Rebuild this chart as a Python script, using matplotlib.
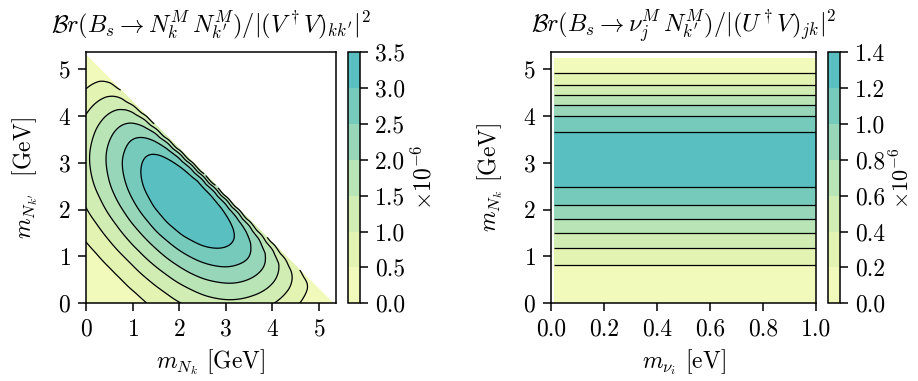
import numpy as np
import matplotlib
matplotlib.use('Agg')
import matplotlib.pyplot as plt
import matplotlib.tri as mtri
from matplotlib.colors import ListedColormap

plt.rcParams['font.family'] = 'serif'
plt.rcParams['font.serif'] = ['cmr10']
plt.rcParams['mathtext.fontset'] = 'cm'
plt.rcParams['axes.formatter.use_mathtext'] = True

m_bs = 5.367

# left panel: Br(Bs -> N N') in units of 1e-6, read on a 0.25 GeV grid
m_grid = [0.0, 0.25, 0.5, 0.75, 1.0, 1.25, 1.5, 1.75, 2.0, 2.25, 2.5,
          2.75, 3.0, 3.25, 3.5, 3.75, 4.0, 4.25, 4.5, 4.75, 5.0, 5.25]
# row i: m_N' = m_grid[i], values for m_N = m_grid[i] ... m_grid[21 - i]
br_nn = [
    [0.00, 0.02, 0.08, 0.18, 0.30, 0.46, 0.62, 0.80, 0.97, 1.12, 1.25, 1.34, 1.39, 1.38, 1.32, 1.20, 1.03, 0.82, 0.58, 0.35, 0.14, 0.02],
    [0.08, 0.18, 0.32, 0.48, 0.67, 0.87, 1.07, 1.27, 1.44, 1.59, 1.69, 1.74, 1.73, 1.65, 1.52, 1.32, 1.07, 0.78, 0.48, 0.19],
    [0.32, 0.49, 0.70, 0.92, 1.15, 1.38, 1.60, 1.79, 1.95, 2.05, 2.10, 2.08, 1.98, 1.81, 1.57, 1.25, 0.88, 0.43],
    [0.70, 0.94, 1.20, 1.46, 1.71, 1.95, 2.16, 2.32, 2.42, 2.46, 2.41, 2.28, 2.05, 1.73, 1.29, 0.68],
    [1.21, 1.50, 1.78, 2.06, 2.31, 2.52, 2.68, 2.77, 2.78, 2.69, 2.50, 2.17, 1.69, 0.94],
    [1.80, 2.11, 2.40, 2.66, 2.87, 3.02, 3.08, 3.04, 2.88, 2.56, 2.05, 1.18],
    [2.44, 2.73, 2.99, 3.19, 3.30, 3.31, 3.19, 2.90, 2.37, 1.40],
    [3.03, 3.27, 3.44, 3.49, 3.42, 3.15, 2.62, 1.58],
    [3.46, 3.48, 3.47, 3.33, 2.81, 1.72],
    [3.49, 3.42, 2.93, 1.81],
    [2.97, 1.86],
]
# values along the kinematic edge m_N + m_N' = edge_sum, at m_N = edge_m
edge_sum = 5.3
edge_m = m_grid + [5.3]
br_edge = [0.01, 0.13, 0.31, 0.51, 0.71, 0.90, 1.07, 1.21, 1.32, 1.40, 1.44, 1.44,
           1.41, 1.34, 1.23, 1.10, 0.93, 0.75, 0.55, 0.35, 0.16, 0.02, 0.01]

# right panel: Br(Bs -> nu N) in units of 1e-6 vs m_N (flat in m_nu)
m_n = [0.0, 0.15, 0.3, 0.45, 0.6, 0.75, 0.9, 1.05, 1.2, 1.35, 1.5, 1.65,
       1.8, 1.95, 2.1, 2.25, 2.4, 2.55, 2.7, 2.85, 3.0, 3.15, 3.3, 3.45,
       3.6, 3.75, 3.9, 4.05, 4.2, 4.35, 4.5, 4.65, 4.8, 4.95, 5.1, 5.25]
br_nun = [0.00, 0.01, 0.03, 0.06, 0.11, 0.17, 0.24, 0.32, 0.41, 0.50, 0.60, 0.70,
          0.80, 0.90, 1.00, 1.08, 1.16, 1.23, 1.28, 1.32, 1.34, 1.34, 1.33, 1.29,
          1.23, 1.16, 1.07, 0.96, 0.83, 0.70, 0.56, 0.42, 0.29, 0.17, 0.08, 0.02]
m_nu = [0.01, 1.0]

lev1 = [0, 0.5, 1.0, 1.5, 2.0, 2.5, 3.0, 3.5]
lev2 = [0, 0.2, 0.4, 0.6, 0.8, 1.0, 1.2, 1.4]

# symmetric table -> scattered points
xs, ys, zs = [], [], []
for i, row in enumerate(br_nn):
    for k, v in enumerate(row):
        j = i + k
        xs.append(m_grid[j]); ys.append(m_grid[i]); zs.append(v)
        if j != i:
            xs.append(m_grid[i]); ys.append(m_grid[j]); zs.append(v)
for a, v in zip(edge_m, br_edge):
    xs.append(a); ys.append(edge_sum - a); zs.append(v)

tri = mtri.Triangulation(xs, ys)
tri_f, z_f = mtri.UniformTriRefiner(tri).refine_field(np.array(zs), subdiv=3)
z_f = np.clip(z_f, 0, 3.49)

cols = ListedColormap(plt.get_cmap('YlGnBu')(np.linspace(0.10, 0.45, 7)))

fig = plt.figure(figsize=(9.18, 3.81), dpi=100)
ax1 = fig.add_axes([0.0937, 0.204, 0.2723, 0.659])
cax1 = fig.add_axes([0.379, 0.204, 0.0131, 0.659])
ax2 = fig.add_axes([0.6002, 0.204, 0.2887, 0.659])
cax2 = fig.add_axes([0.9019, 0.204, 0.0131, 0.659])

cf1 = ax1.tricontourf(tri_f, z_f, levels=lev1, cmap=cols)
ax1.tricontour(tri_f, z_f, levels=lev1[1:-1], colors='k', linewidths=0.9)

Z2 = np.array([br_nun, br_nun]).T
cf2 = ax2.contourf(m_nu, m_n, Z2, levels=lev2, cmap=cols)
ax2.contour(m_nu, m_n, Z2, levels=lev2[1:-1], colors='k', linewidths=0.9)

fs = 17
for ax in (ax1, ax2):
    ax.set_ylim(0, m_bs)
    ax.set_yticks(range(6))
    ax.tick_params(labelsize=fs, length=6, width=1.1, pad=5)
    for s in ax.spines.values():
        s.set_linewidth(1.1)
ax1.set_xlim(0, m_bs)
ax1.set_xticks(range(6))
ax2.set_xlim(0, 1)
ax2.set_xticks([0, 0.2, 0.4, 0.6, 0.8, 1.0])
ax2.xaxis.set_major_formatter(plt.FormatStrFormatter('%.1f'))

ax1.set_title(r'$\mathcal{B}r(B_s\to N_k^M\,N_{k^\prime}^M)/|(V^\dagger V)_{kk^\prime}|^2$', fontsize=17.5, pad=14)
ax2.set_title(r'$\mathcal{B}r(B_s\to \nu_j^M\,N_{k^\prime}^M)/|(U^\dagger V)_{jk}|^2$', fontsize=17.5, pad=14)
ax1.set_xlabel(r'$m_{N_k}$ [GeV]', fontsize=fs, labelpad=5)
ax1.set_ylabel(r'$m_{N_{k^\prime}}$  [GeV]', fontsize=fs, labelpad=13)
ax2.set_xlabel(r'$m_{\nu_i}$ [eV]', fontsize=fs, labelpad=5)
ax2.set_ylabel(r'$m_{N_k}$ [GeV]', fontsize=fs, labelpad=13)

cb1 = fig.colorbar(cf1, cax=cax1, format='%.1f')
cb2 = fig.colorbar(cf2, cax=cax2, format='%.1f')
cb1.set_label(r'$\times 10^{-6}$', fontsize=fs, labelpad=4)
cb2.set_label(r'$\times 10^{-6}$', fontsize=16, labelpad=3)
for cb in (cb1, cb2):
    cb.ax.tick_params(labelsize=fs, length=6, width=1.1, pad=5)
    cb.outline.set_linewidth(1.1)

fig.savefig('out.png', dpi=100)
